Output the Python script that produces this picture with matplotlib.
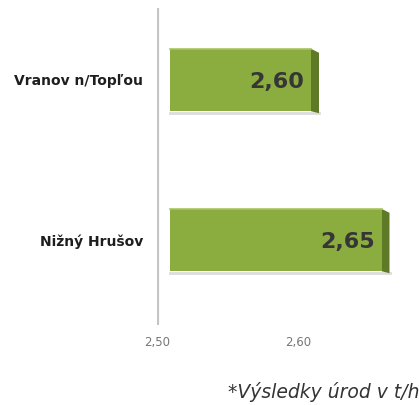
import matplotlib
matplotlib.use("Agg")
import matplotlib.pyplot as plt
from matplotlib.patches import Polygon
from matplotlib.transforms import ScaledTranslation

categories = ["Nižný Hrušov", "Vranov n/Topľou"]
values = [2.65, 2.60]
value_labels = ["2,65", "2,60"]
xticks = [2.50, 2.60]
xtick_labels = ["2,50", "2,60"]
footnote = "*Výsledky úrod v t/ha"

plt.rcParams['font.family'] = ['DejaVu Sans']

W, H = 419, 405
fig = plt.figure(figsize=(W / 100, H / 100), dpi=100)
ax_left, ax_right, ax_top, ax_bot = 157, 419, 8, 325
ax = fig.add_axes([ax_left / W, (H - ax_bot) / H, (ax_right - ax_left) / W, (ax_bot - ax_top) / H])

px_per_x = 1410.0
xmin = 2.50
ax.set_xlim(xmin, xmin + (ax_right - ax_left) / px_per_x)
px_per_y = 160.0
ax.set_ylim(-85 / px_per_y, (317 - 85) / px_per_y)

ys = list(range(len(categories)))
bar_h = 0.39
shift = ScaledTranslation(13 / 100, 0, fig.dpi_scale_trans)
front = '#8bac3f'
side = '#5e7a27'
ax.barh(ys, [v - xmin for v in values], left=xmin, height=bar_h, color=front,
        transform=ax.transData + shift, zorder=3)

dx = 8 / px_per_x
dy = 4 / px_per_y
for y, v, lab in zip(ys, values, value_labels):
    top = y + bar_h / 2
    bot = y - bar_h / 2
    x0 = xmin
    poly = Polygon([(v, top), (v + dx, top - dy), (v + dx, bot - dy * 0.5), (v, bot)],
                   closed=True, facecolor=side, edgecolor='none',
                   transform=ax.transData + shift, zorder=2)
    ax.add_patch(poly)
    ax.plot([x0, v], [top, top], color='#a9c464', lw=1.2, transform=ax.transData + shift, zorder=4)
    ax.plot([x0, v + dx], [bot - 1.5 / px_per_y, bot - 1.5 / px_per_y], color='#d4d4d4', lw=2,
            transform=ax.transData + shift, zorder=1, alpha=0.8)
    ax.text(v - 7 / px_per_x, y - 2 / px_per_y, lab, ha='right', va='center', fontsize=16,
            fontweight='bold', color='#363636', transform=ax.transData + shift, zorder=5)

ax.axvline(xmin, color='#c4c4c4', lw=3, zorder=2)

for s in ax.spines.values():
    s.set_visible(False)
ax.set_yticks(ys)
ax.set_yticklabels(categories, fontsize=10, fontweight='bold', color='#1e1e1e')
ax.tick_params(axis='y', length=0, pad=10)
ax.set_xticks(xticks)
ax.set_xticklabels(xtick_labels, fontsize=8.5, color='#777777')
ax.tick_params(axis='x', length=0, pad=8)

fig.text(228 / W, 1 - 392 / H, footnote, fontsize=13.5, style='italic', color='#333333',
         ha='left', va='center')

fig.savefig("out.png", dpi=100)
